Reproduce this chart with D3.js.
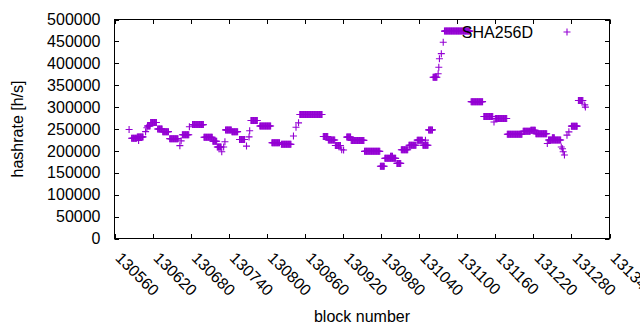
<!DOCTYPE html>
<html lang="en">
<head>
  <meta charset="UTF-8">
  <title>hashrate per block</title>
  <style>
body {
  margin: 0;
  background: #fff;
}
svg text {
  font-family: 'Liberation Sans', Arial, sans-serif;
  font-size: 16px;
  fill: #000;
}
  </style>
</head>
<body>
<svg id="chart" width="640" height="330"></svg>

<script src="https://cdn.jsdelivr.net/npm/d3@7"></script>
<script>
/* global d3 */

// runs of blocks sharing the same hashrate estimate
var runStart = [130583, 130587, 130596, 130598, 130609, 130611, 130612, 130617, 130628, 130636,
  130647, 130663, 130665, 130667, 130678, 130683, 130701, 130715, 130722, 130729,
  130732, 130734, 130735, 130745, 130757, 130768, 130772, 130773, 130775, 130789,
  130808, 130823, 130842, 130846, 130850, 130852, 130889, 130897, 130908, 130918,
  130921, 130926, 130933, 130954, 130979, 130986, 130995, 131005, 131012, 131024,
  131037, 131046, 131050, 131055, 131062, 131070, 131071, 131072, 131075, 131078,
  131080, 131122, 131142, 131158, 131160, 131179, 131204, 131216, 131224, 131242,
  131244, 131250, 131264, 131266, 131267, 131269, 131273, 131276, 131280, 131291,
  131301, 131302];
var runEnd = [130583, 130595, 130605, 130598, 130609, 130611, 130616, 130626, 130635, 130645,
  130660, 130663, 130665, 130677, 130678, 130700, 130714, 130721, 130728, 130729,
  130732, 130734, 130744, 130754, 130765, 130768, 130772, 130773, 130785, 130806,
  130820, 130838, 130842, 130846, 130850, 130887, 130896, 130907, 130916, 130918,
  130921, 130932, 130953, 130978, 130985, 131003, 130998, 131011, 131022, 131035,
  131045, 131054, 131050, 131061, 131068, 131070, 131071, 131072, 131075, 131078,
  131120, 131140, 131156, 131158, 131178, 131202, 131215, 131223, 131241, 131242,
  131263, 131253, 131264, 131266, 131267, 131269, 131273, 131276, 131289, 131298,
  131301, 131302];
var runValue = [249000, 229000, 232000, 224000, 244000, 253000, 257000, 265000, 250000, 244000,
  228000, 212000, 223000, 237000, 255000, 260000, 231000, 222000, 209000, 198000,
  209000, 221000, 248000, 244000, 226000, 211000, 232000, 246000, 269500, 257000,
  218500, 215000, 234000, 254000, 264000, 283000, 233000, 225000, 212500, 202500,
  202000, 231500, 224000, 199000, 165000, 183000, 188000, 171500, 202500, 213000,
  224500, 213000, 224500, 248000, 368000, 376000, 391000, 410500, 422000, 448000,
  473500, 312500, 278500, 266000, 274000, 238000, 245000, 247000, 239000, 217000,
  225000, 230000, 209000, 205000, 198000, 190500, 236000, 243500, 256500, 315000,
  305000, 300000];

var xTicks = [130560, 130620, 130680, 130740, 130800, 130860, 130920, 130980,
  131040, 131100, 131160, 131220, 131280, 131340];
var yTicks = [0, 50000, 100000, 150000, 200000, 250000, 300000, 350000, 400000, 450000, 500000];

var seriesName = "SHA256D";
var color = "#9400d3";

// one point per block
var data = [];
runStart.forEach(function (s, i) {
  for (var b = s; b <= runEnd[i]; b++) {
    data.push({block: b, hashrate: runValue[i]});
  }
});

var svg = d3.select("#chart");
var plotLeft = 114.5, plotRight = 609.5, plotTop = 19.5, plotBottom = 238.5;
var tickLen = 4.5;

var x = d3.scaleLinear().domain([130560, 131340]).range([plotLeft, plotRight]);
var y = d3.scaleLinear().domain([0, 500000]).range([plotBottom, plotTop]);

var plus = "M-3.5,0H3.5M0,-3.5V3.5";

// points
svg.append("g")
  .selectAll("path")
  .data(data)
  .enter().append("path")
    .attr("d", plus)
    .attr("transform", function (d) { return "translate(" + x(d.block) + "," + y(d.hashrate) + ")"; })
    .attr("stroke", color)
    .attr("stroke-width", 1.1)
    .attr("fill", "none");

// axes: gnuplot style box with mirrored inward ticks
var axisG = svg.append("g").attr("stroke", "#000").attr("stroke-width", 1).attr("fill", "none");
axisG.append("rect")
  .attr("x", plotLeft).attr("y", plotTop)
  .attr("width", plotRight - plotLeft).attr("height", plotBottom - plotTop);

xTicks.forEach(function (t) {
  var px = Math.round(x(t)) + 0.5;
  axisG.append("line").attr("x1", px).attr("x2", px).attr("y1", plotBottom).attr("y2", plotBottom - tickLen);
  axisG.append("line").attr("x1", px).attr("x2", px).attr("y1", plotTop).attr("y2", plotTop + tickLen);
});
yTicks.forEach(function (t) {
  var py = Math.round(y(t)) + 0.5;
  axisG.append("line").attr("x1", plotLeft).attr("x2", plotLeft + tickLen).attr("y1", py).attr("y2", py);
  axisG.append("line").attr("x1", plotRight).attr("x2", plotRight - tickLen).attr("y1", py).attr("y2", py);
});

// tick labels
svg.append("g")
  .selectAll("text")
  .data(yTicks)
  .enter().append("text")
    .attr("x", plotLeft - 14)
    .attr("y", function (d) { return y(d); })
    .attr("dy", "0.35em")
    .attr("text-anchor", "end")
    .text(function (d) { return d; });

svg.append("g")
  .selectAll("text")
  .data(xTicks)
  .enter().append("text")
    .attr("transform", function (d) { return "translate(" + (x(d) + 4) + "," + 255 + ") rotate(45)"; })
    .attr("dy", "0.35em")
    .attr("text-anchor", "start")
    .text(function (d) { return d; });

// axis titles
svg.append("text")
  .attr("transform", "translate(23," + ((plotTop + plotBottom) / 2) + ") rotate(-90)")
  .attr("text-anchor", "middle")
  .text("hashrate [h/s]");

svg.append("text")
  .attr("x", (plotLeft + plotRight) / 2)
  .attr("y", 322)
  .attr("text-anchor", "middle")
  .text("block number");

// key
svg.append("text")
  .attr("x", 533)
  .attr("y", 32)
  .attr("dy", "0.35em")
  .attr("text-anchor", "end")
  .text(seriesName);
svg.append("path")
  .attr("d", plus)
  .attr("transform", "translate(567,32)")
  .attr("stroke", color)
  .attr("stroke-width", 1.1)
  .attr("fill", "none");
</script>
</body>
</html>
